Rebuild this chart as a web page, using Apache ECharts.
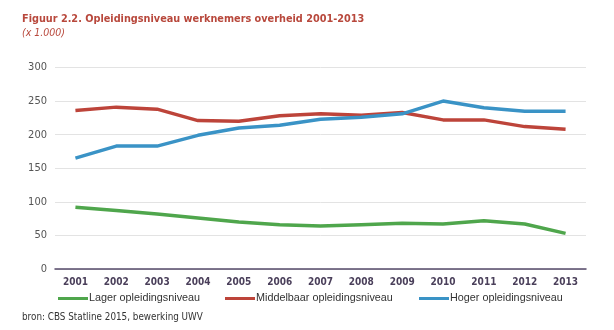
<!DOCTYPE html>
<html><head><meta charset="utf-8">
<script src="https://cdn.jsdelivr.net/npm/echarts@6/dist/echarts.min.js"></script>
<style>html,body{margin:0;padding:0;background:#fff}#c{width:614px;height:330px}</style>
</head><body><div id="c"></div>
<script>
var years = ['2001','2002','2003','2004','2005','2006','2007','2008','2009','2010','2011','2012','2013'];
var lager = [92, 87, 82, 76, 70, 66, 64, 66, 68, 67, 72, 67, 53];
var middelbaar = [236, 241, 238, 221, 220, 228, 231, 229, 233, 222, 222, 212, 208];
var hoger = [165, 183, 183, 199, 210, 214, 223, 226, 231, 250, 240, 235, 235];
var yTicks = [0, 50, 100, 150, 200, 250, 300];
var names = ['Lager opleidingsniveau', 'Middelbaar opleidingsniveau', 'Hoger opleidingsniveau'];
var colors = ['#4fa64c', '#bd443a', '#3a93c6'];

var chart = echarts.init(document.getElementById('c'));
function legendAt(i, left) {
  return {
    data: [names[i]], left: left, top: 293, padding: 0, icon: 'rect', itemWidth: 30, itemHeight: 3,
    textStyle: {fontFamily: 'Liberation Sans', fontSize: 10.8, color: '#333', padding: [0,0,0,-4]}
  };
}
chart.setOption({
  animation: false,
  title: [
    {text: 'Figuur 2.2. Opleidingsniveau werknemers overheid 2001-2013', left: 22, top: 14, padding: 0,
     textStyle: {fontFamily: 'DejaVu Sans Condensed', fontWeight: 'bold', fontSize: 10.8, color: '#b8483c'}},
    {text: '(x 1.000)', left: 22, top: 28, padding: 0,
     textStyle: {fontFamily: 'DejaVu Sans Condensed', fontStyle: 'italic', fontWeight: 'normal', fontSize: 10.5, color: '#b8483c'}}
  ],
  legend: [legendAt(0, 58), legendAt(1, 225), legendAt(2, 419)],
  graphic: [{type: 'text', left: 22, top: 312,
    style: {text: 'bron: CBS Statline 2015, bewerking UWV', fontFamily: 'DejaVu Sans Condensed', fontSize: 9.8, fill: '#333'}}],
  grid: {left: 55, right: 28, top: 67.5, bottom: 61},
  xAxis: {
    type: 'category', data: years, boundaryGap: true,
    axisLine: {lineStyle: {color: '#56496a', width: 1.5}},
    axisTick: {show: false},
    axisLabel: {fontFamily: 'DejaVu Sans Condensed', fontWeight: 'bold', fontSize: 10, color: '#4a3f5a', margin: 8}
  },
  yAxis: {
    type: 'value', min: yTicks[0], max: yTicks[yTicks.length-1], interval: 50,
    axisLine: {show: false}, axisTick: {show: false},
    splitLine: {lineStyle: {color: '#e3e3e3', width: 1}},
    axisLabel: {fontFamily: 'DejaVu Sans Condensed', fontSize: 11, color: '#555', margin: 8}
  },
  series: [
    {name: names[0], type: 'line', data: lager, symbol: 'none', lineStyle: {width: 3.5, color: colors[0]}, itemStyle: {color: colors[0]}},
    {name: names[1], type: 'line', data: middelbaar, symbol: 'none', lineStyle: {width: 3.5, color: colors[1]}, itemStyle: {color: colors[1]}},
    {name: names[2], type: 'line', data: hoger, symbol: 'none', lineStyle: {width: 3.5, color: colors[2]}, itemStyle: {color: colors[2]}}
  ]
});
</script></body></html>
